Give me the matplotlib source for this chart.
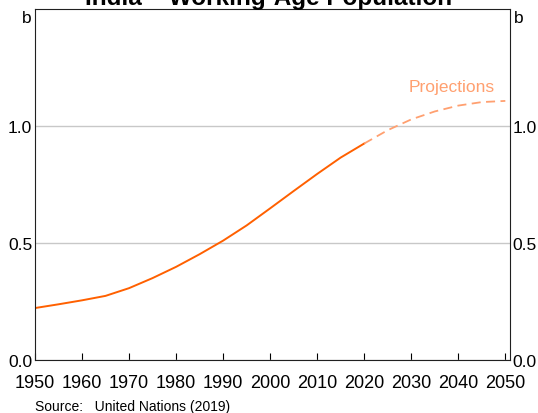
import matplotlib
matplotlib.use("Agg")
import matplotlib.pyplot as plt

plt.rcParams['font.family'] = ['Liberation Sans', 'DejaVu Sans']

years_hist = [1950, 1955, 1960, 1965, 1970, 1975, 1980, 1985, 1990, 1995, 2000, 2005, 2010, 2015, 2020]
pop_hist = [0.222, 0.238, 0.255, 0.274, 0.307, 0.350, 0.398, 0.452, 0.510, 0.575, 0.648, 0.722, 0.795, 0.865, 0.925]
years_proj = [2020, 2025, 2030, 2035, 2040, 2045, 2050]
pop_proj = [0.925, 0.982, 1.028, 1.062, 1.087, 1.102, 1.107]

x_ticks = list(range(1950, 2051, 10))
y_ticks = [0.0, 0.5, 1.0]

fig = plt.figure(figsize=(5.38, 4.14), dpi=100)
ax = fig.add_axes([0.065, 0.128, 0.883, 0.848])

ax.plot(years_hist, pop_hist, color='#FF6000', lw=1.4)
ax.plot(years_proj, pop_proj, color='#FFA070', lw=1.3, ls=(0, (5, 3)))
ax.text(2038.5, 1.17, 'Projections', color='#FFA070', fontsize=12.5, ha='center', va='center')

ax.set_xlim(1950, 2051)
ax.set_ylim(0, 1.5)
ax.set_xticks(x_ticks)
ax.set_yticks(y_ticks)
ax.set_yticklabels(['0.0', '0.5', '1.0'])
ax.grid(axis='y', color='#C8C8C8', lw=1)
ax.set_axisbelow(True)
ax.tick_params(axis='x', direction='in', length=5, labelsize=13, pad=10)
ax.tick_params(axis='y', length=0, labelsize=12.5, pad=2, labelright=True)
for s in ax.spines.values():
    s.set_color('#202020')

ax.text(-0.008, 0.977, 'b', transform=ax.transAxes, ha='right', va='center', fontsize=12.5)
ax.text(1.008, 0.977, 'b', transform=ax.transAxes, ha='left', va='center', fontsize=12.5)

fig.text(0.5, 0.988, 'India – Working-Age Population', ha='center', va='baseline',
         fontsize=17.5, fontweight='bold')
fig.text(0.065, 0.017, 'Source:   United Nations (2019)', fontsize=10, va='center')

fig.savefig('out.png', dpi=100)
